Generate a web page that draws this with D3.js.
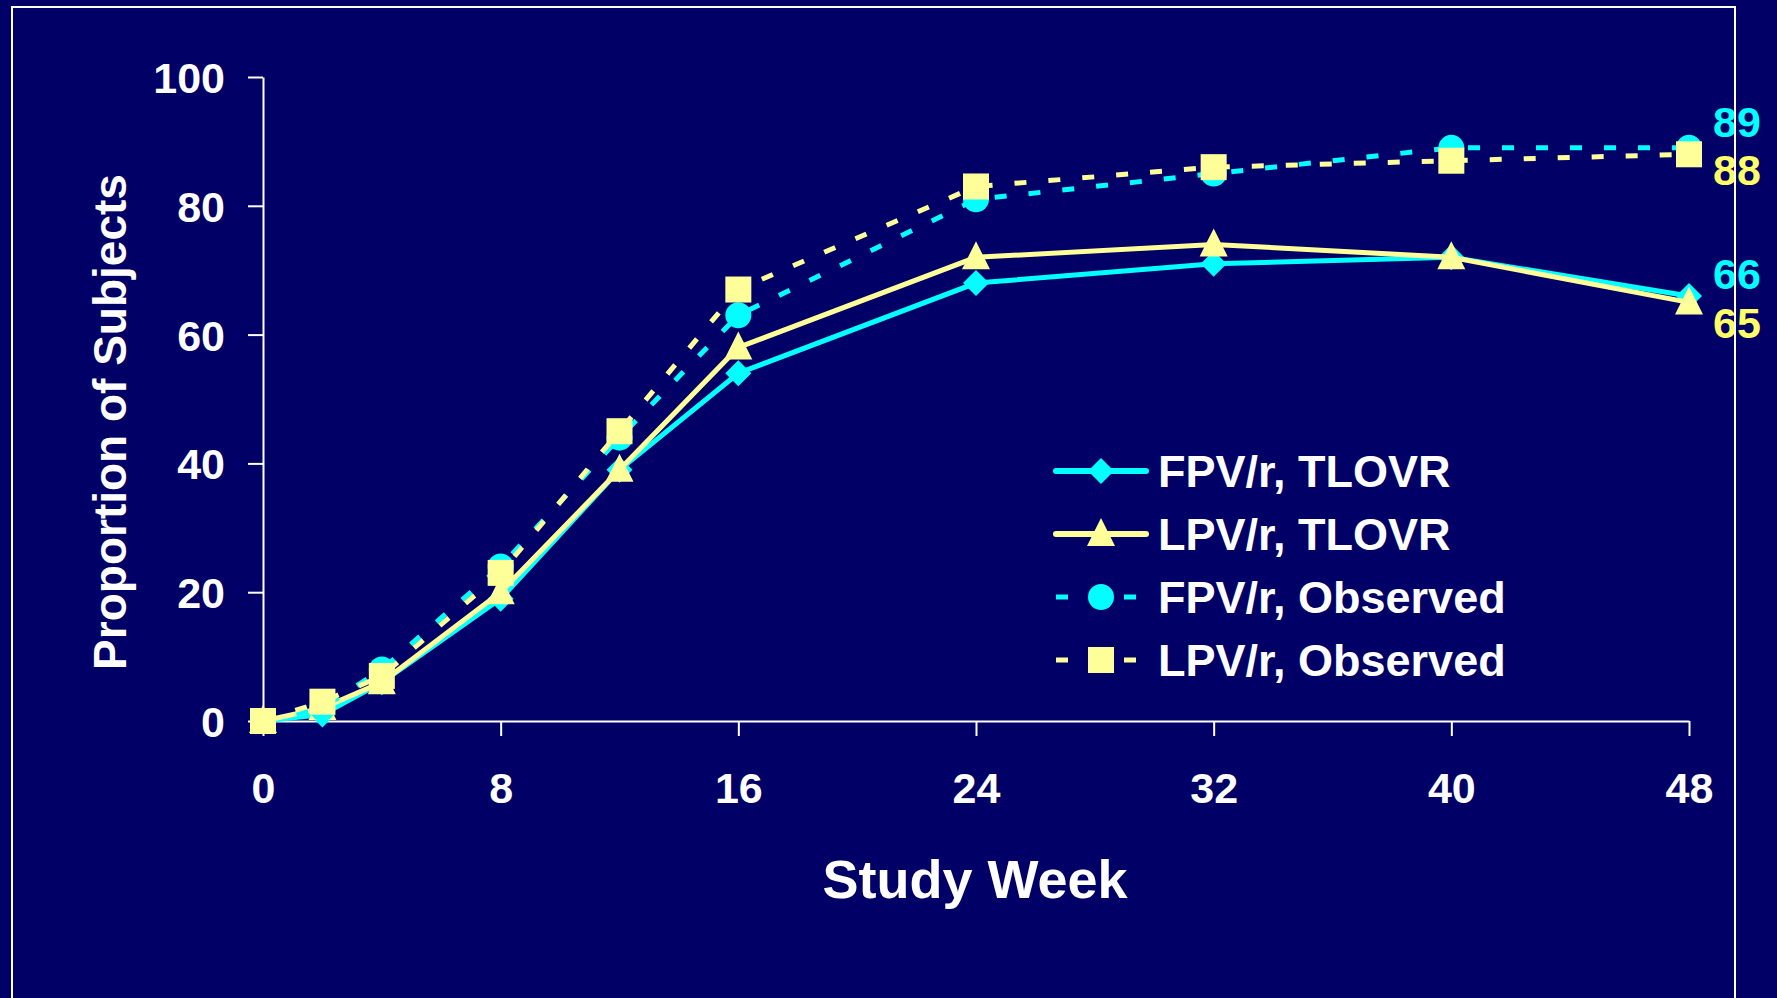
<!DOCTYPE html>
<html>
<head>
<meta charset="utf-8">
<script src="https://cdnjs.cloudflare.com/ajax/libs/d3/7.8.5/d3.min.js"></script>
<style>
  html, body { margin: 0; padding: 0; background: #000066; overflow: hidden; }
  svg { display: block; font-family: "Liberation Sans", Arial, sans-serif; font-weight: bold; }
</style>
</head>
<body>
<svg id="chart" width="1777" height="998"></svg>
<script>
// weeks on the x axis
var weeks = [0, 2, 4, 8, 12, 16, 24, 32, 40, 48];
var xTicks = [0, 8, 16, 24, 32, 40, 48];
var yTicks = [0, 20, 40, 60, 80, 100];

// proportion of subjects (%)
var fpvTlovr = [0, 1, 6, 19, 39, 54, 68, 71, 72, 66];
var lpvTlovr = [0, 2, 6, 20, 39, 58, 72, 74, 72, 65];
var fpvObserved = [0, 2, 8, 24, 44, 63, 81, 85, 89, 89];
var lpvObserved = [0, 3, 7, 23, 45, 67, 83, 86, 87, 88];

var seriesNames = ["FPV/r, TLOVR", "LPV/r, TLOVR", "FPV/r, Observed", "LPV/r, Observed"];
var endLabels = ["66", "65", "89", "88"];

var CYAN = "#00ffff", YELLOW = "#ffff99", LABEL_YELLOW = "#ffff66";

var svg = d3.select("#chart");

var x = d3.scaleLinear().domain([0, 48]).range([263, 1689]);
var y = d3.scaleLinear().domain([0, 100]).range([721, 77]);

/* marker shapes */
function markerPath(type) {
  if (type == "diamond") return "M0,-13L13,0L0,13L-13,0Z";
  if (type == "triangle") return "M0,-16L14,12L-14,12Z";
  if (type == "square") return "M-13,-13H13V13H-13Z";
  return d3.symbol().type(d3.symbolCircle).size(Math.PI * 13 * 13)();
}

var series = [
  { name: seriesNames[0], values: fpvTlovr, color: CYAN, marker: "diamond", dash: null, label: endLabels[0], labelColor: CYAN },
  { name: seriesNames[1], values: lpvTlovr, color: YELLOW, marker: "triangle", dash: null, label: endLabels[1], labelColor: LABEL_YELLOW },
  { name: seriesNames[2], values: fpvObserved, color: CYAN, marker: "circle", dash: "12,22", label: endLabels[2], labelColor: CYAN },
  { name: seriesNames[3], values: lpvObserved, color: YELLOW, marker: "square", dash: "12,22", label: endLabels[3], labelColor: LABEL_YELLOW }
];

// axes
var xAxis = svg.append("g")
  .attr("transform", "translate(0," + y(0) + ")")
  .call(d3.axisBottom(x).tickValues(xTicks).tickSize(15).tickPadding(36).tickSizeOuter(0));
var yAxis = svg.append("g")
  .attr("transform", "translate(" + x(0) + ",0)")
  .call(d3.axisLeft(y).tickValues(yTicks).tickSize(15).tickPadding(23).tickSizeOuter(0));

[xAxis, yAxis].forEach(function(ax) {
  ax.select(".domain").attr("stroke", "#ffffff").attr("stroke-width", 2);
  ax.selectAll(".tick line").attr("stroke", "#ffffff").attr("stroke-width", 2);
  ax.selectAll(".tick text").attr("fill", "#ffffff")
    .style("font-size", "43px").style("font-family", "Liberation Sans, Arial, sans-serif")
    .style("font-weight", "bold");
});
xAxis.selectAll(".tick text").attr("dy", "0.71em");
yAxis.selectAll(".tick text").attr("dy", "0.36em");

// axis titles
svg.append("text")
  .attr("x", 975).attr("y", 898)
  .attr("text-anchor", "middle")
  .attr("fill", "#ffffff")
  .style("font-size", "54px")
  .text("Study Week");

svg.append("text")
  .attr("transform", "translate(126,422) rotate(-90)")
  .attr("text-anchor", "middle")
  .attr("fill", "#ffffff")
  .style("font-size", "46px")
  .text("Proportion of Subjects");

// lines + markers
var line = d3.line()
  .x(function(d, i) { return x(weeks[i]); })
  .y(function(d) { return y(d); });

series.forEach(function(s) {
  var g = svg.append("g");
  g.append("path")
    .attr("d", line(s.values))
    .attr("fill", "none")
    .attr("stroke", s.color)
    .attr("stroke-width", 5)
    .attr("stroke-dasharray", s.dash);
  g.selectAll("path.mark")
    .data(s.values)
    .enter()
    .append("path")
    .attr("class", "mark")
    .attr("d", markerPath(s.marker))
    .attr("transform", function(d, i) { return "translate(" + x(weeks[i]) + "," + y(d) + ")"; })
    .attr("fill", s.color);
});

// end value labels
var labelY = { "89": 137, "88": 185, "66": 289, "65": 338 };
series.forEach(function(s) {
  svg.append("text")
    .attr("x", 1713)
    .attr("y", labelY[s.label])
    .attr("fill", s.labelColor)
    .style("font-size", "43px")
    .text(s.label);
});

// legend
var legend = svg.append("g");
series.forEach(function(s, i) {
  var ly = 471 + i * 63;
  legend.append("line")
    .attr("x1", 1056).attr("x2", 1146)
    .attr("y1", ly).attr("y2", ly)
    .attr("stroke", s.color)
    .attr("stroke-width", s.dash ? 5 : 6)
    .attr("stroke-linecap", s.dash ? "butt" : "round")
    .attr("stroke-dasharray", s.dash);
  legend.append("path")
    .attr("d", markerPath(s.marker))
    .attr("transform", "translate(1101," + ly + ")")
    .attr("fill", s.color);
  legend.append("text")
    .attr("x", 1158).attr("y", ly + 16)
    .attr("fill", "#ffffff")
    .style("font-size", "45px")
    .text(s.name);
});

// slide frame
svg.append("rect")
  .attr("x", 12).attr("y", 7)
  .attr("width", 1723).attr("height", 1100)
  .attr("fill", "none")
  .attr("stroke", "#ffffff")
  .attr("stroke-width", 2);
</script>
</body>
</html>
